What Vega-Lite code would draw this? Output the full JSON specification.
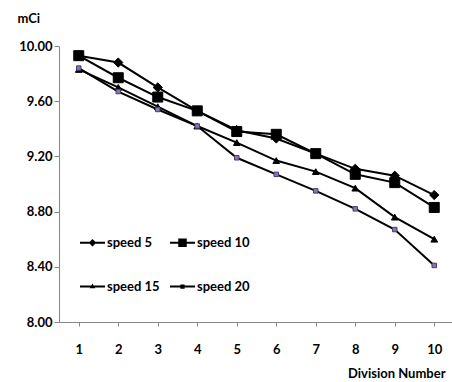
{
  "$schema": "https://vega.github.io/schema/vega-lite/v6.json",
  "width": 395,
  "height": 276,
  "autosize": {"type": "none"},
  "padding": {"left": 59, "top": 46, "right": 0, "bottom": 60},
  "background": "white",
  "config": {
    "view": {"stroke": null},
    "font": "Lato",
    "axis": {
      "grid": false,
      "domainColor": "#868686",
      "tickColor": "#868686",
      "labelColor": "black",
      "labelFont": "Lato",
      "labelFontWeight": "bold",
      "labelFontSize": 13,
      "titleFont": "Lato",
      "titleFontWeight": "bold",
      "titleColor": "black"
    }
  },
  "data": {
    "values": [
      {"division": 1, "series": "speed 5", "mCi": 9.93},
      {"division": 2, "series": "speed 5", "mCi": 9.88},
      {"division": 3, "series": "speed 5", "mCi": 9.70},
      {"division": 4, "series": "speed 5", "mCi": 9.53},
      {"division": 5, "series": "speed 5", "mCi": 9.39},
      {"division": 6, "series": "speed 5", "mCi": 9.33},
      {"division": 7, "series": "speed 5", "mCi": 9.22},
      {"division": 8, "series": "speed 5", "mCi": 9.11},
      {"division": 9, "series": "speed 5", "mCi": 9.06},
      {"division": 10, "series": "speed 5", "mCi": 8.92},
      {"division": 1, "series": "speed 10", "mCi": 9.93},
      {"division": 2, "series": "speed 10", "mCi": 9.77},
      {"division": 3, "series": "speed 10", "mCi": 9.63},
      {"division": 4, "series": "speed 10", "mCi": 9.53},
      {"division": 5, "series": "speed 10", "mCi": 9.38},
      {"division": 6, "series": "speed 10", "mCi": 9.36},
      {"division": 7, "series": "speed 10", "mCi": 9.22},
      {"division": 8, "series": "speed 10", "mCi": 9.07},
      {"division": 9, "series": "speed 10", "mCi": 9.01},
      {"division": 10, "series": "speed 10", "mCi": 8.83},
      {"division": 1, "series": "speed 15", "mCi": 9.83},
      {"division": 2, "series": "speed 15", "mCi": 9.70},
      {"division": 3, "series": "speed 15", "mCi": 9.56},
      {"division": 4, "series": "speed 15", "mCi": 9.42},
      {"division": 5, "series": "speed 15", "mCi": 9.30},
      {"division": 6, "series": "speed 15", "mCi": 9.17},
      {"division": 7, "series": "speed 15", "mCi": 9.09},
      {"division": 8, "series": "speed 15", "mCi": 8.97},
      {"division": 9, "series": "speed 15", "mCi": 8.76},
      {"division": 10, "series": "speed 15", "mCi": 8.60},
      {"division": 1, "series": "speed 20", "mCi": 9.84},
      {"division": 2, "series": "speed 20", "mCi": 9.67},
      {"division": 3, "series": "speed 20", "mCi": 9.54},
      {"division": 4, "series": "speed 20", "mCi": 9.42},
      {"division": 5, "series": "speed 20", "mCi": 9.19},
      {"division": 6, "series": "speed 20", "mCi": 9.07},
      {"division": 7, "series": "speed 20", "mCi": 8.95},
      {"division": 8, "series": "speed 20", "mCi": 8.82},
      {"division": 9, "series": "speed 20", "mCi": 8.67},
      {"division": 10, "series": "speed 20", "mCi": 8.41}
    ]
  },
  "encoding": {
    "x": {
      "field": "division",
      "type": "ordinal",
      "scale": {"type": "point", "padding": 0.5},
      "axis": {
        "labelAngle": 0,
        "tickSize": 4,
        "labelPadding": 17,
        "title": "Division Number",
        "titleFontSize": 13,
        "titleX": 386,
        "titleY": 51,
        "titleAlign": "right",
        "titleBaseline": "middle"
      }
    },
    "y": {
      "field": "mCi",
      "type": "quantitative",
      "scale": {"domain": [8, 10], "nice": false, "zero": false},
      "axis": {
        "values": [8, 8.4, 8.8, 9.2, 9.6, 10],
        "format": ".2f",
        "tickSize": 5,
        "labelPadding": 2,
        "title": "mCi",
        "titleAngle": 0,
        "titleFontSize": 13,
        "titleX": -42,
        "titleY": -28,
        "titleAlign": "left",
        "titleBaseline": "middle"
      }
    }
  },
  "layer": [
    {
      "mark": {"type": "line", "color": "black", "strokeWidth": 2},
      "encoding": {"detail": {"field": "series"}}
    },
    {
      "mark": {"type": "point", "filled": true, "opacity": 1, "strokeWidth": 1},
      "encoding": {
        "shape": {
          "field": "series",
          "scale": {"domain": ["speed 5", "speed 10", "speed 15", "speed 20"], "range": ["diamond", "square", "triangle-up", "square"]},
          "legend": null
        },
        "size": {
          "field": "series",
          "type": "nominal",
          "scale": {"type": "ordinal", "domain": ["speed 5", "speed 10", "speed 15", "speed 20"], "range": [85, 100, 45, 20]},
          "legend": null
        },
        "color": {
          "field": "series",
          "scale": {"domain": ["speed 5", "speed 10", "speed 15", "speed 20"], "range": ["black", "black", "black", "#8a76b0"]},
          "legend": null
        },
        "stroke": {
          "field": "series",
          "scale": {"domain": ["speed 5", "speed 10", "speed 15", "speed 20"], "range": ["black", "black", "black", "#4a3a70"]},
          "legend": null
        }
      }
    },
    {
      "mark": {"type": "point", "filled": true, "opacity": 0, "color": "black"},
      "encoding": {
        "shape": {
          "field": "series",
          "scale": {
            "domain": ["speed 5", "speed 10", "speed 15", "speed 20"],
            "range": [
              "M-1,-0.08H1V0.08H-1ZM0,-0.3L0.3,0L0,0.3L-0.3,0Z",
              "M-1,-0.08H1V0.08H-1ZM-0.34,-0.34H0.34V0.34H-0.34Z",
              "M-1,-0.08H1V0.08H-1ZM0,-0.25L0.22,0.14H-0.22Z",
              "M-1,-0.08H1V0.08H-1ZM-0.17,-0.17H0.17V0.17H-0.17Z"
            ]
          },
          "legend": {
            "orient": "none",
            "legendX": 21,
            "legendY": 184,
            "columns": 2,
            "direction": "horizontal",
            "title": null,
            "symbolSize": 625,
            "symbolFillColor": "black",
            "symbolStrokeColor": "black",
            "symbolStrokeWidth": 0,
            "symbolOpacity": 1,
            "labelFont": "Lato",
            "labelFontWeight": "bold",
            "labelFontSize": 13,
            "labelColor": "black",
            "labelOffset": 2,
            "columnPadding": 10,
            "rowPadding": 24,
            "padding": 0
          }
        }
      }
    }
  ],
  "resolve": {"scale": {"shape": "independent", "color": "independent", "size": "independent", "stroke": "independent"}}
}
